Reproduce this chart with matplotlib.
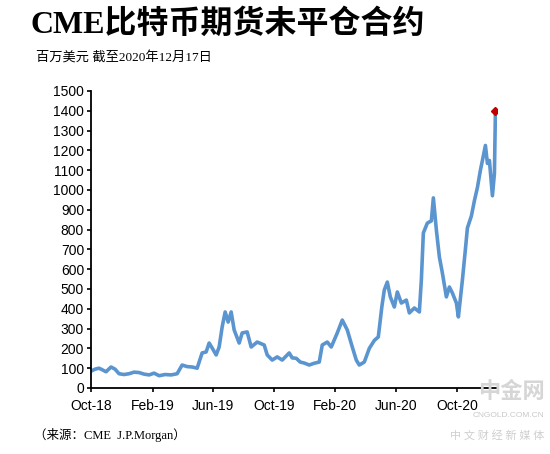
import matplotlib
matplotlib.use("Agg")
import matplotlib.pyplot as plt
import pandas as pd

# open interest, million USD
dates = [
    "2018-10-01", "2018-10-09", "2018-10-17", "2018-10-25", "2018-10-31", "2018-11-10",
    "2018-11-18", "2018-11-26", "2018-12-06", "2018-12-16", "2018-12-26", "2019-01-05",
    "2019-01-15", "2019-01-25", "2019-02-04", "2019-02-14", "2019-02-26", "2019-03-10",
    "2019-03-22", "2019-04-01", "2019-04-11", "2019-04-21", "2019-05-01", "2019-05-11",
    "2019-05-19", "2019-05-25", "2019-05-31", "2019-06-08", "2019-06-14", "2019-06-20",
    "2019-06-26", "2019-07-02", "2019-07-08", "2019-07-14", "2019-07-24", "2019-07-30",
    "2019-08-09", "2019-08-17", "2019-08-29", "2019-09-12", "2019-09-18", "2019-09-28",
    "2019-10-08", "2019-10-18", "2019-11-01", "2019-11-07", "2019-11-15", "2019-11-23",
    "2019-12-01", "2019-12-11", "2019-12-21", "2019-12-31", "2020-01-06", "2020-01-16",
    "2020-01-24", "2020-02-05", "2020-02-15", "2020-02-25", "2020-03-06", "2020-03-14",
    "2020-03-20", "2020-03-30", "2020-04-09", "2020-04-19", "2020-04-27", "2020-05-04",
    "2020-05-09", "2020-05-15", "2020-05-21", "2020-05-29", "2020-06-04", "2020-06-12",
    "2020-06-22", "2020-06-28", "2020-07-08", "2020-07-18", "2020-07-22", "2020-07-26",
    "2020-08-03", "2020-08-11", "2020-08-15", "2020-08-21", "2020-08-27", "2020-09-02",
    "2020-09-10", "2020-09-16", "2020-09-22", "2020-09-30", "2020-10-04", "2020-10-12",
    "2020-10-18", "2020-10-22", "2020-10-30", "2020-11-05", "2020-11-11", "2020-11-17",
    "2020-11-21", "2020-11-27", "2020-12-01", "2020-12-05", "2020-12-11", "2020-12-15",
    "2020-12-17",
]
values = [
    85, 95, 100, 90, 82, 106,
    95, 72, 68, 72, 80, 78,
    70, 66, 75, 62, 68, 66,
    72, 116, 108, 106, 100, 177,
    182, 227, 202, 167, 207, 308,
    384, 333, 384, 293, 227, 278,
    283, 207, 232, 217, 167, 141,
    157, 141, 177, 152, 150, 131,
    126, 116, 125, 131, 217, 232,
    207, 278, 343, 293, 207, 141,
    116, 131, 200, 240, 258, 409,
    495, 535, 460, 409, 485, 429,
    444, 379, 404, 384, 545, 783,
    833, 844, 960, 798, 662, 581,
    460, 510, 480, 429, 359, 545,
    700, 808, 869, 946, 1012, 1100,
    1149, 1225, 1134, 1149, 971, 1083,
    1400,
]

tick_dates = ["2018-10-01", "2019-02-01", "2019-06-01", "2019-10-01",
              "2020-02-01", "2020-06-01", "2020-10-01"]
tick_labels = ["Oct-18", "Feb-19", "Jun-19", "Oct-19", "Feb-20", "Jun-20", "Oct-20"]
y_ticks = list(range(0, 1501, 100))

title = "CME比特币期货未平仓合约"
subtitle = "百万美元 截至2020年12月17日"
source = "（来源：CME  J.P.Morgan）"

x = pd.to_datetime(dates)
cjk = ["Liberation Serif", "Noto Sans CJK SC"]

fig = plt.figure(figsize=(5.5, 4.54), dpi=100)
ax = fig.add_axes([0.1655, 0.1454, 0.738, 0.6542])

ax.plot(x, values, color="#5b95cf", lw=2.6, solid_joinstyle="round")
ax.plot(x[-1:], values[-1:], marker="D", color="#c00000", ms=4.5, lw=0)

ax.set_xlim(pd.Timestamp("2018-10-01"), pd.Timestamp("2020-12-20"))
ax.set_ylim(0, 1500)
ax.set_yticks(y_ticks)
ax.set_xticks(pd.to_datetime(tick_dates))
ax.set_xticklabels(tick_labels)

for s in ["top", "right"]:
    ax.spines[s].set_visible(False)
for s in ["left", "bottom"]:
    ax.spines[s].set_linewidth(1.3)
    ax.spines[s].set_color("black")
ax.tick_params(axis="both", length=3, width=1.2, direction="out",
               labelsize=10, pad=2)
for lab in ax.get_xticklabels() + ax.get_yticklabels():
    lab.set_family("Liberation Sans")
ax.tick_params(axis="x", pad=5)

fig.text(0.055, 0.945, title, family=cjk, weight="bold", fontsize=23,
         va="center", ha="left")
fig.text(0.065, 0.872, subtitle, family=cjk, fontsize=9.5, va="center", ha="left")
fig.text(0.062, 0.042, source, family=cjk, fontsize=9, va="center", ha="left")

# watermark
fig.text(0.99, 0.135, "中金网", family=cjk, fontsize=16, color="#d6d6d6",
         ha="right", va="center", weight="bold")
fig.text(0.99, 0.085, "CNGOLD.COM.CN", fontsize=6, color="#c8c8c8",
         ha="right", va="center", family="Liberation Sans")
fig.text(0.99, 0.042, "中 文 财 经 新 媒 体", family=cjk, fontsize=8,
         color="#cfcfcf", ha="right", va="center")

fig.savefig("out.png", dpi=100)
